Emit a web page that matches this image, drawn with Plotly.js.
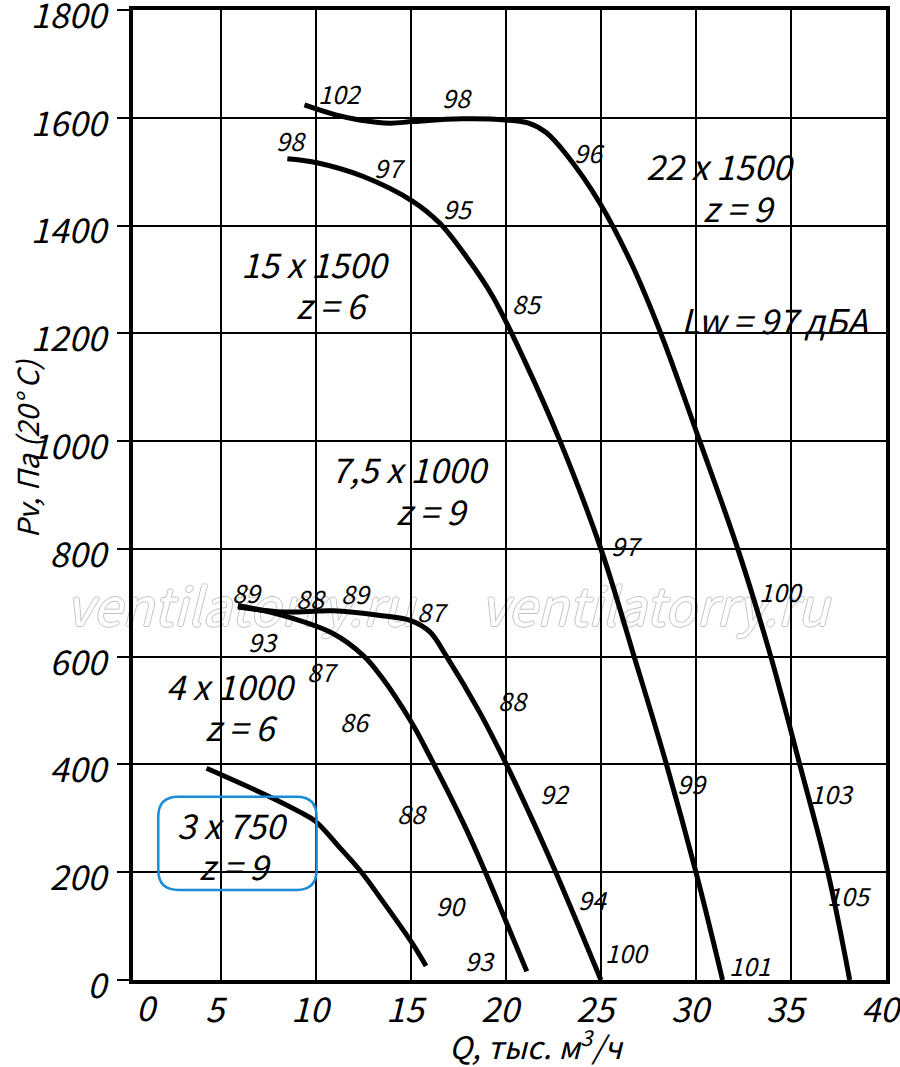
<!DOCTYPE html>
<html>
<head>
<meta charset="utf-8">
<script src="https://cdn.plot.ly/plotly-3.0.1.min.js"></script>
<style>html,body{margin:0;padding:0;background:#fff;}#chart{width:900px;height:1067px;}</style>
</head>
<body>
<div id="chart"></div>
<script>
// ---- Data: Q (thousand m3/h) vs Pv (Pa) for each fan/motor variant ----
var q22x1500 = [9.4, 11.0, 12.3, 13.9, 15.1, 17.7, 20.0, 21.2, 22.1, 23.2, 24.94, 26.6, 28.15, 30.2, 32.2, 33.94, 35.46, 36.94, 38.09];
var p22x1500 = [1624, 1606, 1596, 1590, 1593, 1598, 1596, 1590, 1573, 1531, 1442, 1330, 1200, 1000, 800, 600, 400, 200, 0];

var q15x1500 = [8.5, 10.0, 12.5, 15.1, 16.5, 17.9, 19.3, 21.0, 22.85, 25.0, 26.75, 28.45, 30.0, 31.4];
var p15x1500 = [1524, 1517, 1491, 1445, 1405, 1343, 1269, 1148, 1000, 800, 600, 400, 200, 0];

var q75x1000 = [5.9, 8.3, 10.9, 13.3, 15.0, 16.0, 16.85, 18.6, 20.0, 21.2, 22.6, 23.8, 25.0];
var p75x1000 = [692, 683, 685, 677, 667, 646, 602, 498, 402, 312, 202, 102, 0];

var q4x1000 = [5.9, 8.3, 10.9, 12.5, 13.4, 15.0, 16.1, 17.75, 18.9, 20.0, 21.1];
var p4x1000 = [695, 676, 643, 602, 565, 480, 408, 292, 202, 109, 16];

var q3x750 = [4.25, 7.4, 9.15, 10.0, 11.2, 12.4, 13.4, 15.0, 15.8];
var p3x750 = [393, 343, 312, 294, 248, 200, 152, 72, 26];

// Noise level labels along curves (dBA)
var noiseText = ["102","98","98","97","96","95","85","97","100","89","88","89","87","93","87","86","88","92","99","103","88","90","94","105","93","100","101"];
var noiseQ    = [11.27,17.47,8.74,13.9,24.42,17.53,21.16,26.36,34.5,6.43,9.79,12.16,16.16,7.22,10.37,12.11,20.42,22.57,29.83,37.15,15.11,17.16,24.58,38.1,18.63,26.42,32.84];
var noiseP    = [1646,1639,1559,1509,1536,1433,1256,807,722,720,709,718,685,629,573,481,520,347,366,347,310,139,150,158,37,52,28];

// Variant labels
var variantText = ["22 x 1500","z = 9","15 x 1500","z = 6","Lw = 97 дБА","7,5 x 1000","z = 9","4 x 1000","z = 6","3 x 750","z = 9"];
var variantQ    = [31.31,32.31,10.0,10.9,34.15,15.0,16.16,5.58,6.11,5.64,5.75];
var variantP    = [1512,1434,1330,1254,1225,950,872,547,471,289,212];

// Axis ticks
var xTickVals = [5, 10, 15, 20, 25, 30, 35, 40];
var xTickText = ["5", "10", "15", "20", "25", "30", "35", "40"];
var yTickVals = [0, 200, 400, 600, 800, 1000, 1200, 1400, 1600, 1800];
var yTickText = ["0", "200", "400", "600", "800", "1000", "1200", "1400", "1600", "1800"];

// ---- Styling ----
var FONT = "Noto Sans CJK SC, Open Sans, sans-serif";
var lineStyle = {color: "#000", width: 5, shape: "spline", smoothing: 1.0};

function curve(q, p) {
  return {x: q, y: p, type: "scatter", mode: "lines", line: lineStyle, hoverinfo: "skip", showlegend: false};
}

var traces = [
  curve(q22x1500, p22x1500),
  curve(q15x1500, p15x1500),
  curve(q75x1000, p75x1000),
  curve(q4x1000, p4x1000),
  curve(q3x750, p3x750)
];

function tf(size) { return {family: FONT, size: size, color: "#000", style: "italic"}; }

var annotations = [];
for (var i = 0; i < noiseText.length; i++) {
  annotations.push({x: noiseQ[i], y: noiseP[i], xref: "x", yref: "y", text: noiseText[i], showarrow: false,
    xanchor: "center", yanchor: "middle", font: tf(25)});
}
for (var j = 0; j < variantText.length; j++) {
  annotations.push({x: variantQ[j], y: variantP[j], xref: "x", yref: "y", text: variantText[j], showarrow: false,
    xanchor: "center", yanchor: "middle", font: tf(34)});
}
// zero tick label (offset in original), axis titles
annotations.push({x: 0.0186, y: -0.027, xref: "paper", yref: "paper", text: "0", showarrow: false,
  xanchor: "center", yanchor: "middle", font: tf(34)});
annotations.push({x: -0.141, y: 0.548, xref: "paper", yref: "paper", text: "Pv, Па (20° C)", textangle: -90, showarrow: false,
  xanchor: "center", yanchor: "middle", font: tf(29)});
annotations.push({x: 0.5365, y: -0.066, xref: "paper", yref: "paper", text: "Q, тыс. м<sup>3</sup>/ч", showarrow: false,
  xanchor: "center", yanchor: "middle", font: tf(31)});

// rounded box around "3 x 750"
var bx0 = 1.71, bx1 = 10.04, by0 = 167, by1 = 340, rx = 1.05, ry = 37;
var boxPath = "M" + (bx0 + rx) + "," + by1 + " L" + (bx1 - rx) + "," + by1 +
  " Q" + bx1 + "," + by1 + " " + bx1 + "," + (by1 - ry) +
  " L" + bx1 + "," + (by0 + ry) + " Q" + bx1 + "," + by0 + " " + (bx1 - rx) + "," + by0 +
  " L" + (bx0 + rx) + "," + by0 + " Q" + bx0 + "," + by0 + " " + bx0 + "," + (by0 + ry) +
  " L" + bx0 + "," + (by1 - ry) + " Q" + bx0 + "," + by1 + " " + (bx0 + rx) + "," + by1 + " Z";

var wmShadow = "#c4c4c4 1px 0px 0px, #c4c4c4 -1px 0px 0px, #c4c4c4 0px 1px 0px, #c4c4c4 0px -1px 0px";
function watermark(xc) {
  return {type: "rect", xref: "paper", yref: "paper", x0: xc - 0.05, x1: xc + 0.05, y0: 0.35, y1: 0.41, layer: "between",
    line: {width: 0}, fillcolor: "rgba(0,0,0,0)",
    label: {text: "ventilatorry.ru", textposition: "middle center",
      font: {family: FONT, size: 52, color: "#ffffff", style: "italic", shadow: wmShadow}}};
}

var layout = {
  width: 900, height: 1067,
  margin: {l: 133, r: 14, t: 10, b: 87, pad: 0},
  paper_bgcolor: "#fff", plot_bgcolor: "#fff",
  showlegend: false,
  xaxis: {
    range: [0.38, 40], tickmode: "array", tickvals: xTickVals, ticktext: xTickText,
    showgrid: true, gridcolor: "#000", gridwidth: 2, zeroline: false,
    showline: true, linecolor: "#000", linewidth: 4, mirror: true,
    ticks: "", ticklabelshift: -6, ticklabelstandoff: -3, ticklabeloverflow: "allow",
    tickfont: tf(34)
  },
  yaxis: {
    range: [0, 1800], tickmode: "array", tickvals: yTickVals, ticktext: yTickText,
    showgrid: true, gridcolor: "#000", gridwidth: 2, zeroline: false,
    showline: true, linecolor: "#000", linewidth: 4, mirror: true,
    ticks: "outside", ticklen: 12, tickwidth: 2, tickcolor: "#000",
    ticklabelstandoff: 4, ticklabelshift: 6, ticklabeloverflow: "allow",
    tickfont: tf(34)
  },
  annotations: annotations,
  shapes: [
    watermark(0.142), watermark(0.693),
    {type: "path", xref: "x", yref: "y", path: boxPath, line: {color: "#1a8cd8", width: 2.5}, fillcolor: "rgba(0,0,0,0)", layer: "above"}
  ]
};

Plotly.newPlot("chart", traces, layout, {staticPlot: true, displayModeBar: false});
</script>
</body>
</html>
